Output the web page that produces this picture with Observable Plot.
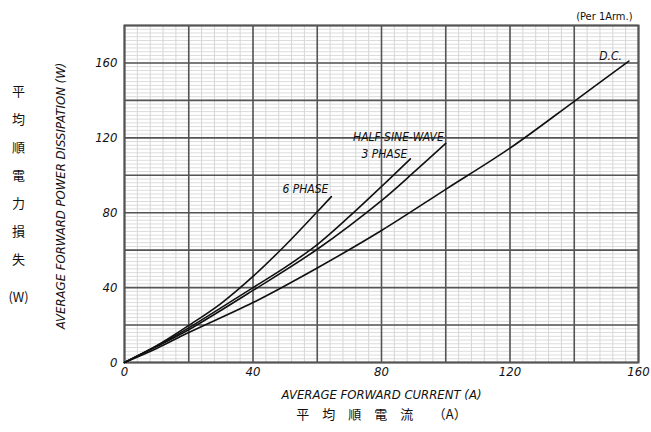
<!DOCTYPE html>
<html><head><meta charset="utf-8">
<script src="https://cdn.jsdelivr.net/npm/d3@7"></script>
<script src="https://cdn.jsdelivr.net/npm/@observablehq/plot@0.6"></script>
<style>
body{margin:0;background:#fff}
#chart svg{display:block;background:#fff}
#chart svg text{font-stretch:condensed}
</style>
</head><body><div id="chart"></div>
<script>
// ---- data ----
const dcCurrent   = [0, 10, 20, 40, 60, 80, 100, 120, 140, 157];
const dcPower     = [0, 7.5, 16, 32, 50.5, 70.5, 92.5, 114.5, 139.5, 161];
const halfCurrent = [0, 10, 20, 40, 60, 80, 90, 100];
const halfPower   = [0, 8.5, 17.5, 38.5, 60.5, 86.5, 101.5, 117];
const ph3Current  = [0, 10, 20, 40, 50, 60, 70, 80, 89];
const ph3Power    = [0, 8.8, 18.5, 40, 50.8, 63, 78, 94, 108.8];
const ph6Current  = [0, 10, 20, 30, 40, 50, 60, 64.4];
const ph6Power    = [0, 9, 19.8, 31.5, 46, 62.5, 80.5, 88.6];
const seriesNames = ["D.C.", "HALF-SINE-WAVE", "3 PHASE", "6 PHASE"];
const xTicks = [0, 40, 80, 120, 160];
const yTicks = [0, 40, 80, 120, 160];
const xTickLabels = ["0", "40", "80", "120", "160"];
const yTickLabels = ["0", "40", "80", "120", "160"];
const xTitle = "AVERAGE FORWARD CURRENT (A)";
const xTitleJa = "平　均　順　電　流　　（A）";
const yTitle = "AVERAGE FORWARD POWER DISSIPATION (W)";
const yTitleJa = "平\n均\n順\n電\n力\n損\n失";
const yUnitJa = "(W)";
const note = "(Per 1Arm.)";

// ---- build table ----
const build = (name, xs, ys) => xs.map((x, i) => ({series: name, current: x, power: ys[i]}));
const curves = [
  build(seriesNames[0], dcCurrent, dcPower),
  build(seriesNames[1], halfCurrent, halfPower),
  build(seriesNames[2], ph3Current, ph3Power),
  build(seriesNames[3], ph6Current, ph6Power)
];
const rows = curves.flat();
const ends = curves.map(c => c[c.length - 1]);
const labelStyle = {
  "D.C.":           {dx: -7, dy: -5},
  "HALF-SINE-WAVE": {dx: -2, dy: -6},
  "3 PHASE":        {dx: -3, dy: -5},
  "6 PHASE":        {dx: -3, dy: -7}
};

const narrow = "'DejaVu Sans Condensed', 'Liberation Sans Narrow', 'DejaVu Sans', sans-serif";
const cjk = "'Noto Sans CJK JP', 'Noto Sans CJK SC', sans-serif";

const minorX = d3.range(0, 161, 4);
const minorY = d3.range(0, 181, 2);
const majorX = d3.range(0, 161, 20);
const majorY = d3.range(0, 181, 20);

const chart = Plot.plot({
  width: 651,
  height: 432,
  marginTop: 25,
  marginRight: 13,
  marginBottom: 70,
  marginLeft: 124,
  style: {fontFamily: narrow, background: "#fff"},
  x: {domain: [0, 160]},
  y: {domain: [0, 180]},
  marks: [
    Plot.ruleY(minorY, {stroke: "#dcdcdc", strokeWidth: 1}),
    Plot.ruleX(minorX, {stroke: "#d6d6d6", strokeWidth: 1}),
    Plot.ruleY(majorY, {stroke: "#555", strokeWidth: 1.6}),
    Plot.ruleX(majorX, {stroke: "#555", strokeWidth: 1.6}),
    Plot.frame({stroke: "#555", strokeWidth: 2}),
    Plot.axisX({ticks: xTicks, tickFormat: (d) => xTickLabels[xTicks.indexOf(d)], tickSize: 0, tickPadding: 4, fontSize: 13, fontStyle: "italic", fontFamily: narrow, label: null, fill: "#111"}),
    Plot.axisY({ticks: yTicks, tickFormat: (d) => yTickLabels[yTicks.indexOf(d)], tickSize: 0, tickPadding: 7, fontSize: 13, fontStyle: "italic", fontFamily: narrow, label: null, fill: "#111"}),
    Plot.line(rows, {x: "current", y: "power", z: "series", stroke: "#111", strokeWidth: 1.6, curve: "catmull-rom"}),
    ...ends.map(e => Plot.text([e], {
      x: "current", y: "power", text: "series", textAnchor: "end",
      dx: labelStyle[e.series].dx, dy: labelStyle[e.series].dy,
      fontSize: 12, fontStyle: "italic", fontFamily: narrow, fill: "#111"
    })),
    Plot.text([xTitle], {frameAnchor: "bottom", dy: 36, fontSize: 13, fontStyle: "italic", fontFamily: narrow, fill: "#111"}),
    Plot.text([xTitleJa], {frameAnchor: "bottom", dy: 56, fontSize: 13, fontFamily: cjk, fill: "#111"}),
    Plot.text([yTitle], {frameAnchor: "left", dx: -64, dy: 2, rotate: -90, textAnchor: "middle", fontSize: 13, fontStyle: "italic", fontFamily: narrow, fill: "#111"}),
    Plot.text([yTitleJa], {frameAnchor: "left", dx: -106, dy: -23, textAnchor: "middle", lineHeight: 2.15, fontSize: 13, fontFamily: cjk, fill: "#111"}),
    Plot.text([yUnitJa], {frameAnchor: "left", dx: -106, dy: 104, textAnchor: "middle", fontSize: 13, fontFamily: cjk, fill: "#111"}),
    Plot.text([note], {frameAnchor: "top-right", dx: -6, dy: -13, textAnchor: "end", fontSize: 11, fontFamily: narrow, fill: "#111"})
  ]
});
document.getElementById("chart").append(chart);
</script>
</body></html>
